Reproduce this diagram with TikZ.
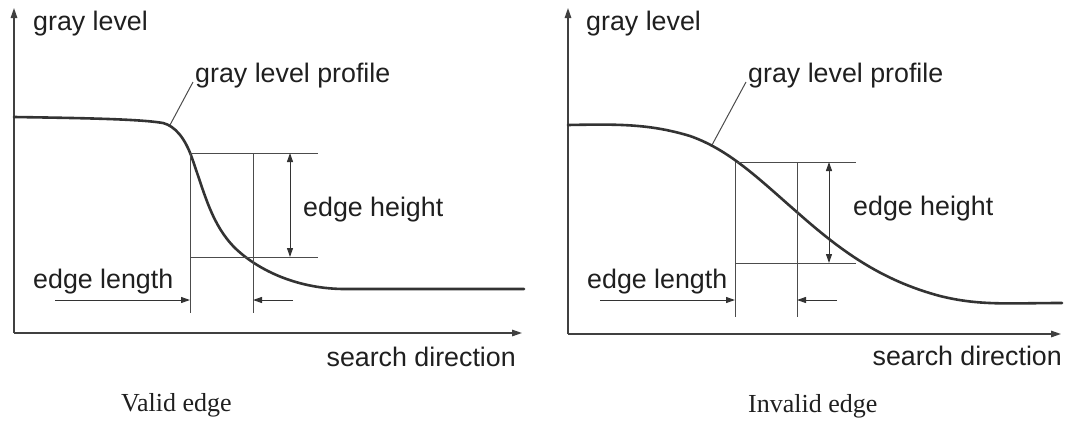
\documentclass[tikz,border=0pt]{standalone}
\usepackage{fontspec}
\setmainfont{Liberation Serif}
\setsansfont{Liberation Sans}
\usetikzlibrary{arrows.meta}
\begin{document}
\begin{tikzpicture}[x=1pt,y=-1pt,
  axis/.style={line width=1.4pt,draw=black!75,-{Triangle[length=10pt,width=6.5pt]}},
  profile/.style={line width=2.6pt,draw=black!80,line cap=round},
  guide/.style={line width=1pt,draw=black!70},
  dim/.style={line width=1pt,draw=black!80,-{Triangle[length=9pt,width=6pt]}},
  dimboth/.style={line width=1pt,draw=black!80,{Triangle[length=9pt,width=6pt]}-{Triangle[length=9pt,width=6pt]}},
  lbl/.style={font=\sffamily\fontsize{26.8}{30}\selectfont,text=black!88,inner sep=0pt,anchor=base west},
  captxt/.style={font=\rmfamily\fontsize{26}{30}\selectfont,text=black!88,inner sep=0pt,anchor=base west}]
\useasboundingbox (0,0) rectangle (1069,421);

% ---------------- left panel: valid edge ----------------
\coordinate (LO) at (14,333);
\coordinate (LY) at (14,8);
\coordinate (LX) at (522,333);
\draw[axis] (LO) -- (LY);
\draw[axis] (LO) -- (LX);
\node[lbl] (lgl) at (33,30) {gray level};
\node[lbl] (lgp) at (195,82) {gray level profile};
\coordinate (lpa) at (193,82);
\coordinate (lpb) at (170,125);
\draw[guide] (lpa) -- (lpb);
\draw[profile] (14,117) .. controls (80,118) and (140,119) .. (163,123)
  .. controls (175,126) and (185,138) .. (192,158)
  .. controls (205,195) and (212,225) .. (235,248)
  .. controls (260,272) and (300,289) .. (345,289) -- (524,289);
% guide box
\coordinate (lt1) at (190,153); \coordinate (lt2) at (318,153);
\coordinate (lb1) at (190,257); \coordinate (lb2) at (318,257);
\coordinate (lv1) at (190,313); \coordinate (lv2) at (253,153); \coordinate (lv3) at (253,313);
\draw[guide] (lt1) -- (lt2);
\draw[guide] (lb1) -- (lb2);
\draw[guide] (lt1) -- (lv1);
\draw[guide] (lv2) -- (lv3);
\coordinate (lh1) at (290,153); \coordinate (lh2) at (290,257);
\draw[dimboth] (lh1) -- (lh2);
\node[lbl] (leh) at (303,216) {edge height};
\node[lbl] (lel) at (33,288) {edge length};
\coordinate (la1) at (55,300); \coordinate (la2) at (190,300);
\coordinate (la3) at (293,300); \coordinate (la4) at (253,300);
\draw[dim] (la1) -- (la2);
\draw[dim] (la3) -- (la4);
\node[lbl,anchor=base east] (lsd) at (516,366) {search direction};
\node[captxt] (lcap) at (121,411) {Valid edge};

% ---------------- right panel: invalid edge ----------------
\coordinate (RO) at (568,334);
\coordinate (RY) at (568,8);
\coordinate (RX) at (1061,334);
\draw[axis] (RO) -- (RY);
\draw[axis] (RO) -- (RX);
\node[lbl] (rgl) at (586,30) {gray level};
\node[lbl] (rgp) at (748,82) {gray level profile};
\coordinate (rpa) at (746,82);
\coordinate (rpb) at (712,145);
\draw[guide] (rpa) -- (rpb);
\draw[profile] (568,125) .. controls (620,124) and (650,124) .. (690,136)
  .. controls (730,150) and (760,180) .. (798,213)
  .. controls (840,250) and (880,280) .. (940,296)
  .. controls (980,306) and (1010,303) .. (1062,303);
\coordinate (rt1) at (735,162); \coordinate (rt2) at (856,162);
\coordinate (rb1) at (735,263); \coordinate (rb2) at (856,263);
\coordinate (rv1) at (735,317); \coordinate (rv2) at (797,162); \coordinate (rv3) at (797,317);
\draw[guide] (rt1) -- (rt2);
\draw[guide] (rb1) -- (rb2);
\draw[guide] (rt1) -- (rv1);
\draw[guide] (rv2) -- (rv3);
\coordinate (rh1) at (829,162); \coordinate (rh2) at (829,263);
\draw[dimboth] (rh1) -- (rh2);
\node[lbl] (reh) at (853,215) {edge height};
\node[lbl] (rel) at (587,288) {edge length};
\coordinate (ra1) at (600,300); \coordinate (ra2) at (735,300);
\coordinate (ra3) at (837,300); \coordinate (ra4) at (797,300);
\draw[dim] (ra1) -- (ra2);
\draw[dim] (ra3) -- (ra4);
\node[lbl,anchor=base east] (rsd) at (1062,365) {search direction};
\node[captxt] (rcap) at (748,412) {Invalid edge};
\end{tikzpicture}
\end{document}
